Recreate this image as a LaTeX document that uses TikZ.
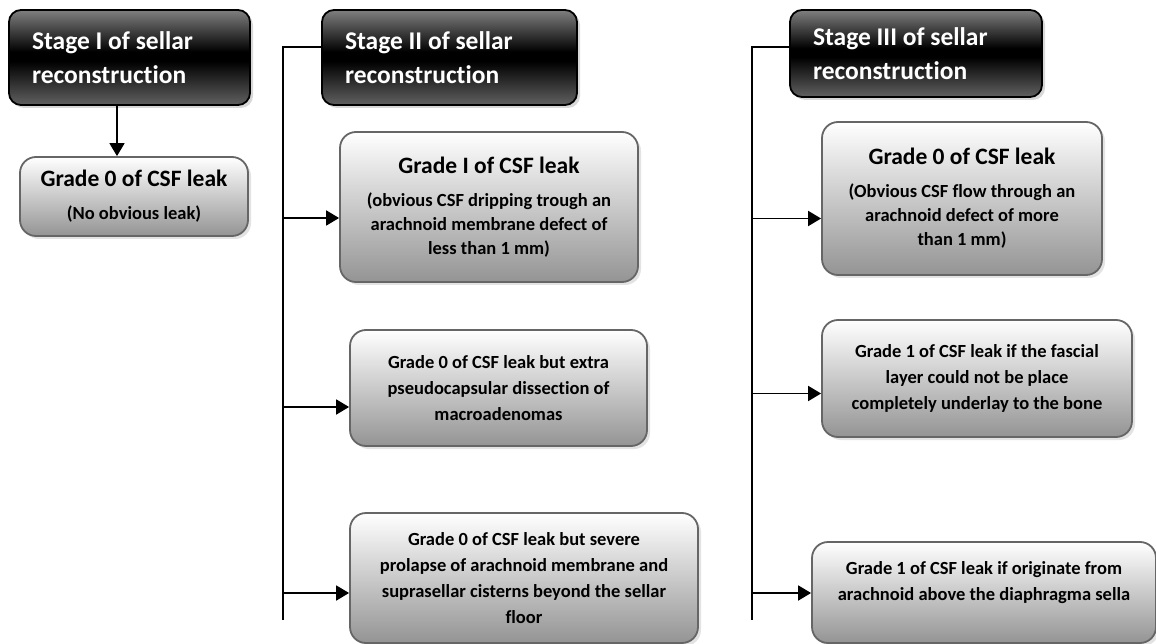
\documentclass[tikz,border=0pt]{standalone}
\usepackage{fontspec}
\setmainfont{Carlito}[Ligatures=NoCommon]
\usetikzlibrary{arrows.meta,shadows,calc}

\pgfdeclareverticalshading{stageshade}{100bp}{color(0bp)=(black!62); color(25bp)=(black!62); color(48bp)=(black); color(53bp)=(black); color(75bp)=(black!50); color(100bp)=(black!50)}
\pgfdeclareverticalshading{gradeshade}{100bp}{color(0bp)=(black!42); color(25bp)=(black!42); color(75bp)=(white); color(100bp)=(white)}

\newcommand{\gradetitle}[1]{{\fontsize{23.5}{28}\selectfont #1}}

\tikzset{
    stage/.style={
           rectangle,
           draw=black, line width=1.8pt,
           rounded corners=12pt,
           shading=stageshade,
           text=white, align=left,
           inner xsep=23pt, inner ysep=0pt,
           font=\bfseries\fontsize{25.5}{34}\selectfont,
           execute at begin node={\spaceskip=0pt\xspaceskip=0pt\relax},
           drop shadow={shadow xshift=3pt,shadow yshift=-3pt,fill=black!30},
           },
    grade/.style={
           rectangle,
           draw=black!60, line width=1.8pt,
           rounded corners=16pt,
           shading=gradeshade,
           align=center, inner sep=0pt,
           font=\bfseries\fontsize{18.5}{26}\selectfont,
           drop shadow={shadow xshift=3pt,shadow yshift=-3pt,fill=black!22},
           },
    titled/.style={
           grade,
           font=\bfseries\fontsize{18.5}{24}\selectfont,
           },
    link/.style={line width=1.8pt},
    arrow/.style={link, -{Triangle[length=13pt,width=15pt]}},
}

\begin{document}
\begin{tikzpicture}[x=1pt,y=-1pt]
\useasboundingbox (0,0) rectangle (1156,644);

       % stage headers
       \node[stage, text width=195pt, minimum height=95pt] (STAGEONE) at (129.5,57.5)
       {Stage I of sellar\\reconstruction};
       \node[stage, text width=209pt, minimum height=95pt] (STAGETWO) at (449.5,57.5)
       {Stage II of sellar\\reconstruction};
       \node[stage, text width=206pt, minimum height=87pt] (STAGETHREE) at (916,53.5)
       {Stage III of sellar\\reconstruction};

       % stage I
       \node[titled, minimum width=228pt, minimum height=79pt] (GRADEZERO) at (134,196.5)
       {\gradetitle{Grade 0 of CSF leak}\\[9pt](No obvious leak)};

       % stage II
       \node[titled, minimum width=298pt, minimum height=150pt] (GRADEONE) at (489,207)
       {\gradetitle{Grade I of CSF leak}\\[9pt](obvious CSF dripping trough an\\arachnoid membrane defect of\\less than 1 mm)};
       \node[grade, minimum width=297pt, minimum height=116pt] (PSEUDO) at (498.5,388)
       {Grade 0 of CSF leak but extra\\pseudocapsular dissection of\\macroadenomas};
       \node[grade, minimum width=348pt, minimum height=130pt] (PROLAPSE) at (524,578)
       {Grade 0 of CSF leak but severe\\prolapse of arachnoid membrane and\\suprasellar cisterns beyond the sellar\\floor};

       % stage III
       \node[titled, minimum width=280pt, minimum height=153pt] (GRADEZEROR) at (962,198.5)
       {\gradetitle{Grade 0 of CSF leak}\\[9pt](Obvious CSF flow through an\\arachnoid defect of more\\than 1 mm)};
       \node[grade, minimum width=310pt, minimum height=117pt] (FASCIAL) at (977,378.5)
       {Grade 1 of CSF leak if the fascial\\layer could not be place\\completely underlay to the bone};
       \node[grade, minimum width=344pt, minimum height=101pt] (ORIGINATE) at (984,592.5)
       {Grade 1 of CSF leak if originate from\\arachnoid above the diaphragma sella\\[-4pt]\mbox{}};

       % connectors
       \coordinate (BUSTWO) at (283,620);
       \coordinate (BUSTHREE) at (752,620);

       \draw[arrow] ([xshift=-12.5pt]STAGEONE.south) -- ([xshift=-12.5pt]STAGEONE.south |- GRADEZERO.north);

       \draw[link] ([yshift=10.5pt]STAGETWO.west) -| (BUSTWO);
       \foreach \target/\dy in {GRADEONE/11, PSEUDO/19, PROLAPSE/15}
       {
           \coordinate (T) at ($(\target.west)+(0,\dy)$);
           \draw[arrow] (T -| BUSTWO) -- (T);
       }

       \draw[link] ([yshift=6.5pt]STAGETHREE.west) -| (BUSTHREE);
       \foreach \target/\dy in {GRADEZEROR/20, FASCIAL/15, ORIGINATE/0.5}
       {
           \coordinate (T) at ($(\target.west)+(0,\dy)$);
           \draw[arrow] (T -| BUSTHREE) -- (T);
       }

\end{tikzpicture}
\end{document}
